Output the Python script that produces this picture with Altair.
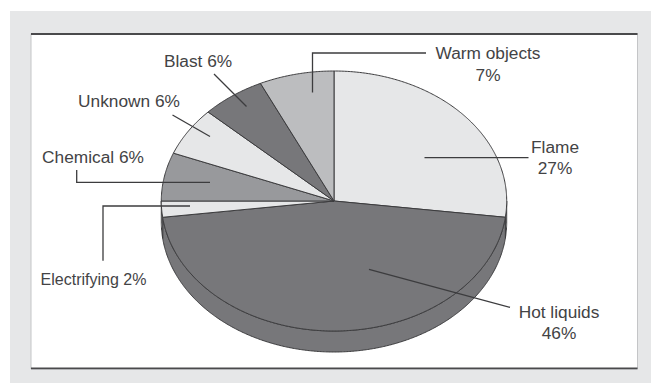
import math
import altair as alt
import pandas as pd

# Share of burn cases by cause, clockwise from twelve o'clock
causes = ["Flame", "Hot liquids", "Electrifying", "Chemical", "Unknown", "Blast", "Warm objects"]
shares = [27, 46, 2, 6, 6, 6, 7]
slice_colors = ["#e6e7e8", "#77777a", "#e6e7e8", "#98999c", "#e6e7e8", "#77777a", "#bcbdbf"]

# Annotation text, one entry per printed line
label_lines = ["Warm objects", "7%", "Flame", "27%", "Hot liquids", "46%",
               "Blast 6%", "Unknown 6%", "Chemical 6%", "Electrifying 2%"]
label_x = [488, 488, 555, 555, 559, 559, 198, 129, 93, 93.5]
label_y = [59, 81, 153, 174, 318, 339, 67, 107, 163, 285]
label_size = [17.3, 17.3, 17.3, 17.3, 17.3, 17.3, 17.3, 17.3, 17.3, 16]

# Leader lines as (x, y) vertices
leaders = [
    [(426, 53), (312.5, 53), (312.5, 92.5)],
    [(214, 74), (246.5, 106.5)],
    [(172.5, 115), (210, 136.5)],
    [(76.7, 170), (76.7, 182.3), (210, 182.3)],
    [(103, 260.7), (103, 206), (190, 206)],
    [(424.5, 157.7), (528.5, 157.7)],
    [(369, 269.3), (510, 307.3)],
]

W, H = 651, 383
CX, CY, RX, RY, DEPTH = 334, 201, 172.7, 130, 21
INK = "#3c3c3e"


def rim(deg, drop=0):
    t = math.radians(deg)
    return CX + RX * math.sin(t), CY - RY * math.cos(t) + drop


def arc_angles(a, b):
    n = max(2, int((b - a) * 2))
    return [a + (b - a) * i / n for i in range(n + 1)]


faces, walls = [], []
start = 0.0
for i, (name, share) in enumerate(zip(causes, shares)):
    end = start + share * 3.6
    path = [(CX, CY)] + [rim(d) for d in arc_angles(start, end)]
    faces += [dict(cause=name, seq=k, x=p[0], y=p[1]) for k, p in enumerate(path)]
    lo, hi = max(start, 90), min(end, 270)
    if lo < hi:
        angles = arc_angles(lo, hi)
        path = [rim(d) for d in angles] + [rim(d, DEPTH) for d in reversed(angles)]
        walls += [dict(cause=name, seq=k, x=p[0], y=p[1]) for k, p in enumerate(path)]
    start = end

x_scale = alt.Scale(domain=[0, W], range=[0, W], nice=False, zero=False)
y_scale = alt.Scale(domain=[0, H], range=[0, H], nice=False, zero=False)
X = alt.X("x:Q", scale=x_scale, axis=None)
Y = alt.Y("y:Q", scale=y_scale, axis=None)
fill_scale = alt.Fill("cause:N", scale=alt.Scale(domain=causes, range=slice_colors), legend=None)


def box(x0, y0, x1, y1, **style):
    frame = pd.DataFrame([dict(x=x0, y=y0, x2=x1, y2=y1)])
    return alt.Chart(frame).mark_rect(**style).encode(X, Y, x2="x2:Q", y2="y2:Q")


def solid(rows):
    return (
        alt.Chart(pd.DataFrame(rows))
        .mark_line(interpolate="linear-closed", stroke=INK, strokeWidth=1, strokeJoin="round")
        .encode(X, Y, fill_scale, detail="cause:N", order="seq:Q")
    )


leader_rows = [
    dict(leader=i, seq=k, x=p[0], y=p[1])
    for i, line in enumerate(leaders)
    for k, p in enumerate(line)
]
leader_layer = (
    alt.Chart(pd.DataFrame(leader_rows))
    .mark_line(color=INK, strokeWidth=1.3)
    .encode(X, Y, detail="leader:N", order="seq:Q")
)

text_layer = (
    alt.Chart(pd.DataFrame(dict(x=label_x, y=label_y, text=label_lines, size=label_size)))
    .mark_text(font="Liberation Sans", align="center", baseline="alphabetic", color="#434345")
    .encode(X, Y, text="text:N", size=alt.Size("size:Q", scale=None, legend=None))
)

chart = (
    alt.layer(
        box(10, 11, W, H, color="#e6e7e8"),
        box(31, 33.5, 637.5, 369, color="#ffffff", stroke="#c4c5c7", strokeWidth=1),
        box(31, 33, 637.5, 35, color="#4a4a4c"),
        box(31, 367.5, 637.5, 369.3, color="#4a4a4c"),
        solid(walls),
        solid(faces),
        leader_layer,
        text_layer,
    )
    .properties(width=W, height=H, padding=0, background="#ffffff")
    .configure_view(stroke=None)
)

chart.save("out.html", embed_options={"renderer": "svg", "actions": False})
